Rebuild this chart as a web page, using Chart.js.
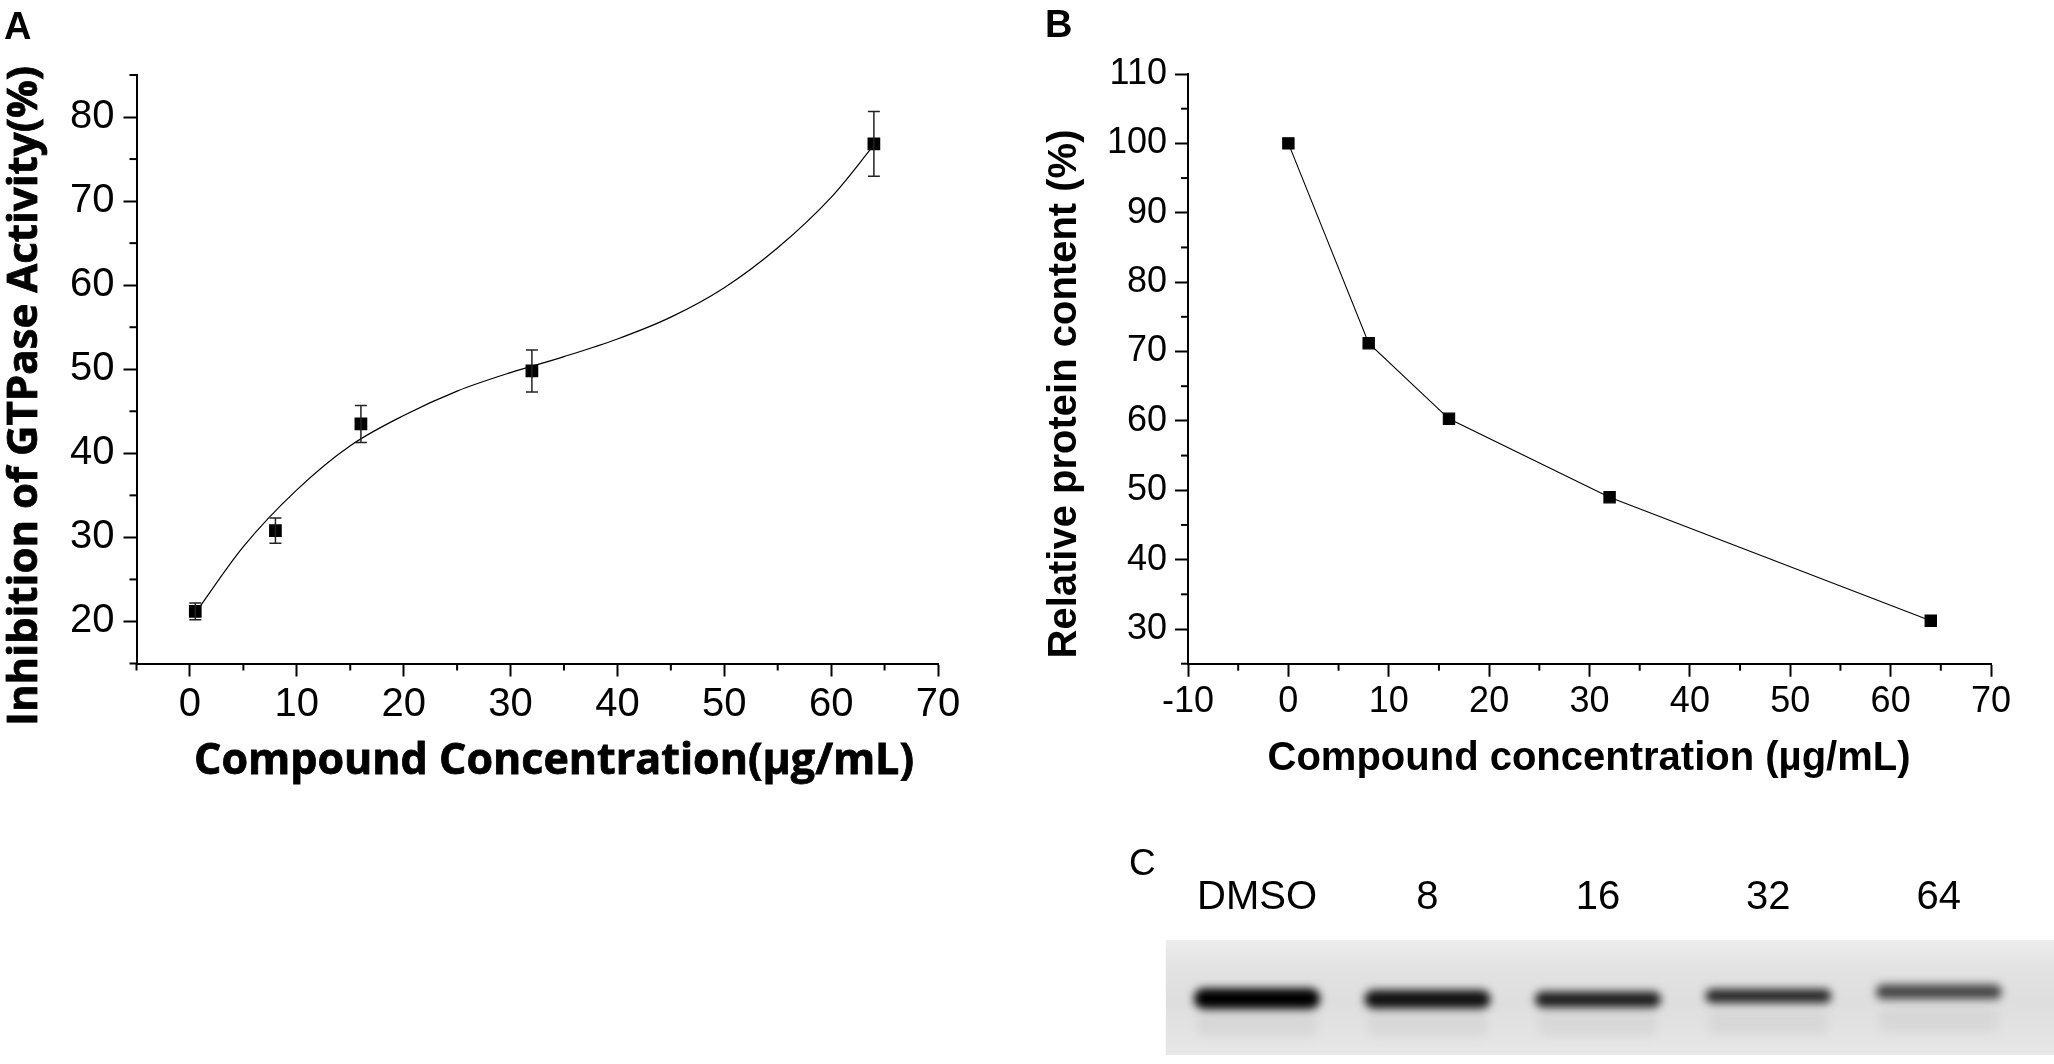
<!DOCTYPE html>
<html>
<head>
<meta charset="UTF-8">
<title>GTPase inhibition and relative protein content</title>
<script src="https://cdn.jsdelivr.net/npm/chart.js"></script>
<style>
  html, body { margin: 0; padding: 0; background: #fff; }
  body { width: 2054px; height: 1064px; position: relative; overflow: hidden; font-family: "Liberation Sans", Arial, sans-serif; }
  canvas { position: absolute; }
  .tag { position: absolute; line-height: 1; color: #000; }
</style>
</head>
<body>
<canvas id="chartA" width="1000" height="840" style="left:0;top:0"></canvas>
<canvas id="chartB" width="1027" height="840" style="left:1027px;top:0"></canvas>
<canvas id="chartC" width="954" height="224" style="left:1100px;top:840px"></canvas>
<div class="tag" style="left:4px;top:7px;font-weight:bold;font-size:38px;">A</div>
<div class="tag" style="left:1045px;top:5px;font-weight:bold;font-size:38px;">B</div>
<div class="tag" style="left:1129px;top:844px;font-size:37px;">C</div>

<script>
// A: inhibition of GTPase activity, mean and error
const concA = [0.5, 8, 16, 32, 64];
const inhibA = [21.2, 30.8, 43.5, 49.8, 76.8];
const errA = [1.0, 1.5, 2.2, 2.5, 3.85];
// fitted curve of A
const fitX = [0.5, 5, 10, 15, 20, 25, 30, 35, 40, 45, 50, 55, 60, 64];
const fitY = [21.0, 28.9, 35.65, 40.9, 44.5, 47.4, 49.6, 51.5, 53.6, 56.2, 59.7, 64.45, 70.45, 76.65];

// B: relative protein content
const concB = [0, 8, 16, 32, 64];
const proteinB = [100, 71.2, 60.3, 49.0, 31.2];

// C: blot lanes, band position (0 = top of gel, 100 = bottom) and darkness
const lanes = ['DMSO', '8', '16', '32', '64'];
const bandTop = [42, 43.5, 44.8, 42.5, 38.8];
const bandBottom = [60, 59.5, 58.6, 54.8, 51.6];
const bandDensity = [1.0, 0.92, 0.86, 0.82, 0.68];
const smearTop = [64, 64, 64, 62, 60];
const smearBottom = [84, 84, 83, 82, 80];

const pts = (xs, ys) => xs.map((x, i) => ({ x: x, y: ys[i] }));

function axis(min, max, fontSize, pad, size, vertical) {
  return {
    type: 'linear', min: min, max: max,
    afterFit: s => { if (vertical) s.width = size; else s.height = size; },
    border: { display: true, color: '#000', width: 2 },
    grid: {
      drawOnChartArea: false, tickLength: 13, tickWidth: 2,
      tickColor: c => (c.tick && c.tick.value % 10 === 0) ? '#000' : 'rgba(0,0,0,0)'
    },
    ticks: {
      stepSize: 5, autoSkip: false, maxRotation: 0, padding: pad, color: '#000',
      font: { family: 'Liberation Sans', size: fontSize },
      callback: v => v % 10 === 0 ? String(v) : ''
    }
  };
}

// short ticks between the labelled ones
const minorTicks = {
  id: 'minorTicks',
  afterDraw(chart) {
    const ctx = chart.ctx;
    ctx.save();
    ctx.strokeStyle = '#000';
    ctx.lineWidth = 2;
    ['x', 'y'].forEach(id => {
      const s = chart.scales[id];
      s.ticks.forEach(t => {
        if (t.value % 10 === 0) return;
        const p = s.getPixelForValue(t.value);
        ctx.beginPath();
        if (id === 'x') { ctx.moveTo(p, s.top); ctx.lineTo(p, s.top + 7); }
        else { ctx.moveTo(s.right, p); ctx.lineTo(s.right - 7, p); }
        ctx.stroke();
      });
    });
    ctx.restore();
  }
};

const errorBars = {
  id: 'errorBars',
  afterDatasetsDraw(chart, args, opts) {
    if (!opts.errors) return;
    const ds = chart.data.datasets[opts.dataset];
    const meta = chart.getDatasetMeta(opts.dataset);
    const ys = chart.scales.y;
    const ctx = chart.ctx;
    ctx.save();
    ctx.strokeStyle = '#222';
    ctx.lineWidth = 1.5;
    meta.data.forEach((pt, i) => {
      const v = ds.data[i].y;
      const top = ys.getPixelForValue(v + opts.errors[i]);
      const bot = ys.getPixelForValue(v - opts.errors[i]);
      ctx.beginPath();
      ctx.moveTo(pt.x, top); ctx.lineTo(pt.x, bot);
      ctx.moveTo(pt.x - 6, top); ctx.lineTo(pt.x + 6, top);
      ctx.moveTo(pt.x - 6, bot); ctx.lineTo(pt.x + 6, bot);
      ctx.stroke();
    });
    ctx.restore();
  }
};

// axis titles placed where the figure has them
const axisTitles = {
  id: 'axisTitles',
  afterDraw(chart, args, opts) {
    const ctx = chart.ctx;
    (opts.items || []).forEach(t => {
      ctx.save();
      ctx.font = t.font;
      ctx.fillStyle = '#000';
      ctx.textAlign = 'center';
      ctx.textBaseline = 'alphabetic';
      ctx.translate(t.x, t.y);
      if (t.rotate) ctx.rotate(-Math.PI / 2);
      ctx.fillText(t.text, 0, 0);
      if (t.heavy) {
        ctx.lineWidth = 0.8;
        ctx.strokeStyle = '#000';
        ctx.strokeText(t.text, 0, 0);
      }
      ctx.restore();
    });
  }
};

const common = {
  responsive: false,
  animation: false,
  events: [],
  plugins: { legend: { display: false }, tooltip: { enabled: false } }
};

new Chart(document.getElementById('chartA'), {
  type: 'scatter',
  data: {
    datasets: [
      {
        data: pts(fitX, fitY), showLine: true, pointRadius: 0,
        borderColor: '#000', borderWidth: 1.2, cubicInterpolationMode: 'monotone'
      },
      {
        data: pts(concA, inhibA), showLine: false, pointStyle: 'rect',
        pointRadius: 9, backgroundColor: '#000', borderWidth: 0
      }
    ]
  },
  options: Object.assign({}, common, {
    layout: { padding: { left: 0, top: 75, right: 62, bottom: 0 } },
    scales: {
      x: axis(-5, 70, 40, 4, 176.5, false),
      y: axis(15, 85, 40, 9, 136.5, true)
    },
    plugins: Object.assign({}, common.plugins, {
      errorBars: { dataset: 1, errors: errA },
      axisTitles: { items: [
        { text: 'Inhibition of GTPase Activity(%)', font: 'bold 42px "Open Sans"', x: 37, y: 396, rotate: true, heavy: true },
        { text: 'Compound Concentration(\u00b5g/mL)', font: 'bold 43px "Open Sans"', x: 554, y: 774, heavy: true }
      ] }
    })
  }),
  plugins: [minorTicks, errorBars, axisTitles]
});

new Chart(document.getElementById('chartB'), {
  type: 'scatter',
  data: {
    datasets: [{
      data: pts(concB, proteinB), showLine: true, tension: 0,
      borderColor: '#000', borderWidth: 1.1,
      pointStyle: 'rect', pointRadius: 8, backgroundColor: '#000'
    }]
  },
  options: Object.assign({}, common, {
    layout: { padding: { left: 0, top: 74, right: 63, bottom: 0 } },
    scales: {
      x: axis(-10, 70, 36, 4, 176.3, false),
      y: axis(25, 110, 36, 8, 161, true)
    },
    plugins: Object.assign({}, common.plugins, {
      axisTitles: { items: [
        { text: 'Relative protein content (%)', font: 'bold 40px "Liberation Sans"', x: 49, y: 394, rotate: true },
        { text: 'Compound concentration (\u00b5g/mL)', font: 'bold 40px "Liberation Sans"', x: 562, y: 770 }
      ] }
    })
  }),
  plugins: [minorTicks, axisTitles]
});

// gel background behind the bands
const gelBack = {
  id: 'gelBack',
  beforeDatasetsDraw(chart) {
    const a = chart.chartArea, ctx = chart.ctx;
    const g = ctx.createLinearGradient(0, a.top, 0, a.bottom);
    g.addColorStop(0, '#eeeeee');
    g.addColorStop(0.2, '#e3e3e3');
    g.addColorStop(0.55, '#dedede');
    g.addColorStop(1, '#e7e7e7');
    ctx.save();
    ctx.fillStyle = g;
    ctx.fillRect(a.left - 6, a.top, chart.width - a.left + 6, a.bottom - a.top);
    ctx.restore();
  }
};
const blurBands = {
  id: 'blurBands',
  beforeDatasetsDraw(chart) { chart.ctx.save(); chart.ctx.filter = 'blur(4px)'; },
  afterDatasetsDraw(chart) { chart.ctx.restore(); }
};

const gray = d => { const v = Math.round(215 - 215 * d); return 'rgb(' + v + ',' + v + ',' + v + ')'; };

new Chart(document.getElementById('chartC'), {
  type: 'bar',
  data: {
    labels: lanes,
    datasets: [
      {
        data: lanes.map((l, i) => [bandTop[i], bandBottom[i]]),
        backgroundColor: bandDensity.map(gray), grouped: false,
        barPercentage: 0.74, categoryPercentage: 1, borderRadius: 10, borderSkipped: false
      },
      {
        data: lanes.map((l, i) => [smearTop[i], smearBottom[i]]),
        backgroundColor: 'rgba(180,180,180,0.22)', grouped: false,
        barPercentage: 0.7, categoryPercentage: 1, borderRadius: 8, borderSkipped: false
      }
    ]
  },
  options: Object.assign({}, common, {
    layout: { padding: { left: 71.8, right: 30, top: 0, bottom: 9 } },
    scales: {
      x: {
        position: 'top',
        afterFit: s => { s.height = 100; },
        grid: { display: false, drawTicks: false },
        border: { display: false },
        ticks: { padding: 18, color: '#000', font: { family: 'Liberation Sans', size: 40 } }
      },
      y: { min: 0, max: 100, reverse: true, display: false }
    }
  }),
  plugins: [gelBack, blurBands]
});
</script>
</body>
</html>
